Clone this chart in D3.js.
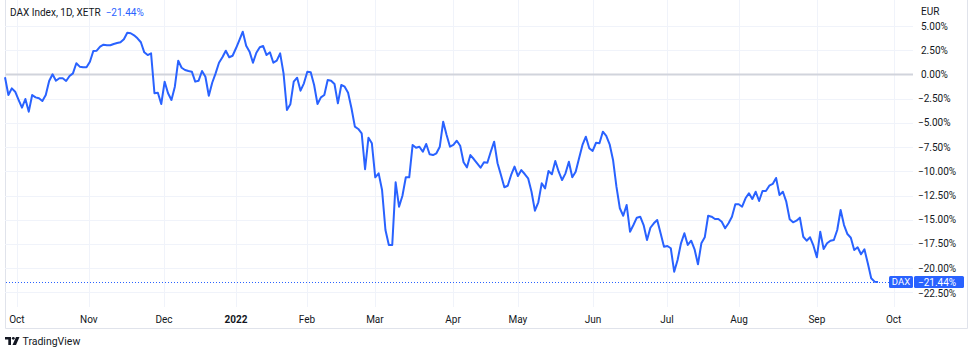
<!DOCTYPE html>
<html>
<head>
<meta charset="utf-8">
<script src="https://cdn.jsdelivr.net/npm/d3@7"></script>
<style>
  body { margin: 0; background: #fff; }
  svg { display: block; font-family: Roboto, "Noto Sans", sans-serif; }
</style>
</head>
<body>
<div id="chart"></div>
<script>
// DAX daily change in %, one value per trading day (Sep 2021 - Sep 2022)
var values = [
  -0.29, -2.12, -1.43, -1.78, -2.63, -3.43, -2.53, -3.84, -2.12, -2.36,
  -2.46, -2.74, -2.12, -0.67, 0.02, -0.64, -0.39, -0.39, -0.67, -0.15,
  0.12, 1.16, 0.81, 0.74, 0.74, 1.32, 2.43, 2.46, 2.87, 3.08,
  3.02, 3.02, 3.15, 3.25, 3.33, 3.64, 4.32, 4.26, 4.05, 3.74,
  3.33, 2.29, 2.01, 2.19, -1.94, -1.88, -3.05, -0.74, -1.94, -2.63,
  -1.26, 1.43, 0.70, 0.46, 0.36, 0.29, -0.74, -0.64, 0.36, -0.23,
  -2.19, -0.85, 0.12, 1.22, 1.78, 2.46, 1.78, 1.94, 2.71, 3.56,
  4.42, 2.98, 2.36, 1.22, 2.25, 2.81, 2.94, 2.01, 2.29, 1.22,
  1.43, 2.19, 0.12, -3.67, -3.08, -0.74, -0.33, -1.67, -0.91, 0.29,
  0.23, -1.08, -3.05, -2.36, -2.12, -0.57, -0.64, -0.98, -2.98, -1.08,
  -1.26, -1.88, -3.49, -5.39, -5.63, -6.07, -9.79, -6.53, -7.11, -10.62,
  -10.21, -11.93, -16.06, -17.62, -17.62, -11.14, -13.66, -12.52, -10.62, -10.62,
  -7.28, -7.56, -7.46, -7.98, -7.18, -8.24, -8.32, -8.14, -7.46, -4.88,
  -6.25, -7.46, -7.28, -6.84, -7.36, -9.07, -9.59, -8.32, -8.73, -9.17,
  -9.63, -9.07, -9.11, -7.98, -6.94, -9.17, -10.38, -11.65, -11.49, -10.38,
  -9.52, -10.49, -9.87, -10.28, -10.72, -12.11, -14.07, -13.20, -11.24, -11.76,
  -9.97, -10.31, -8.94, -10.04, -10.90, -10.21, -9.01, -10.62, -10.04, -8.66,
  -7.28, -6.43, -7.62, -7.90, -7.05, -7.11, -5.91, -6.35, -7.21, -8.83,
  -11.59, -13.82, -14.59, -13.48, -16.24, -15.55, -14.79, -14.69, -15.55, -17.10,
  -15.83, -15.37, -15.03, -16.40, -17.79, -17.72, -17.95, -20.37, -19.16, -17.44,
  -16.40, -17.61, -17.17, -18.06, -19.61, -17.44, -16.82, -14.59, -14.69, -14.93,
  -14.93, -15.21, -15.89, -15.37, -14.69, -13.41, -13.41, -13.66, -12.79, -12.27,
  -12.86, -12.11, -13.07, -12.04, -12.04, -11.49, -11.31, -10.69, -12.45, -12.11,
  -13.14, -14.96, -15.27, -15.10, -14.79, -16.76, -17.17, -16.82, -17.69, -18.88,
  -16.24, -18.03, -17.44, -17.17, -17.10, -16.06, -14.00, -15.55, -16.48, -16.86,
  -18.13, -17.85, -18.57, -18.06, -19.50, -21.05, -21.40, -21.44
];

// month starts, as trading-day index into values
var monthIdx = [3.5, 24.7, 46.8, 68, 88.9, 108.9, 131.9, 151, 173.1, 194.9, 216.1, 239, 261.6];
var monthLabels = ["Oct", "Nov", "Dec", "2022", "Feb", "Mar", "Apr", "May", "Jun", "Jul", "Aug", "Sep", "Oct"];

var yTicks = [5, 2.5, 0, -2.5, -5, -7.5, -10, -12.5, -15, -17.5, -20, -22.5];
var lastValue = -21.44;

var W = 975, H = 354;
var plot = {left: 5, right: 913, top: 0, bottom: 307};
var blue = "#2962ff", ink = "#131722";
var fs = "10px";

var svg = d3.select("#chart").append("svg")
  .attr("width", W)
  .attr("height", H);

var x = d3.scaleLinear()
  .domain([0, values.length - 1])
  .range([5, 878]);

var y = d3.scaleLinear()
  .domain([5, -22.5])
  .range([26.1, 292.3]);

function pct(v) {
  return d3.format(".2f")(v).replace("-", "\u2212") + "%";
}

// widget border
svg.append("path")
  .attr("d", "M5.5,0 V328.5 H967.5 V0")
  .style("fill", "none")
  .style("stroke", "#e0e3eb");

// vertical grid
svg.selectAll(".vgrid")
  .data(monthIdx)
  .enter().append("line")
  .attr("class", "vgrid")
  .attr("x1", function(d) { return Math.round(x(d)) + 0.5; })
  .attr("x2", function(d) { return Math.round(x(d)) + 0.5; })
  .attr("y1", plot.top)
  .attr("y2", plot.bottom)
  .style("stroke", "#f0f3fa");

// horizontal grid
svg.selectAll(".hgrid")
  .data(yTicks.filter(function(d) { return d != 0; }))
  .enter().append("line")
  .attr("class", "hgrid")
  .attr("x1", plot.left)
  .attr("x2", plot.right)
  .attr("y1", function(d) { return Math.round(y(d)) + 0.5; })
  .attr("y2", function(d) { return Math.round(y(d)) + 0.5; })
  .style("stroke", "#f0f3fa");

// zero baseline
svg.append("line")
  .attr("x1", plot.left + 1)
  .attr("x2", plot.right)
  .attr("y1", y(0))
  .attr("y2", y(0))
  .style("stroke", "#d1d4dc")
  .style("stroke-width", 2);

// last value dotted line
svg.append("line")
  .attr("x1", plot.left + 1)
  .attr("x2", plot.right)
  .attr("y1", Math.round(y(lastValue)) + 0.5)
  .attr("y2", Math.round(y(lastValue)) + 0.5)
  .style("stroke", blue)
  .style("stroke-width", 1)
  .style("stroke-dasharray", "1,2");

// the series
var line = d3.line()
  .x(function(d, i) { return x(i); })
  .y(function(d) { return y(d); });

svg.append("path")
  .datum(values)
  .attr("d", line)
  .style("fill", "none")
  .style("stroke", blue)
  .style("stroke-width", 2)
  .style("stroke-linejoin", "round");

// price scale labels
svg.append("text")
  .text("EUR")
  .attr("x", 921)
  .attr("y", 11)
  .attr("dy", "0.35em")
  .style("font-size", fs)
  .style("fill", ink);

svg.selectAll(".ylab")
  .data(yTicks)
  .enter().append("text")
  .attr("class", "ylab")
  .text(pct)
  .attr("x", function(d) { return d < 0 ? 918 : 921; })
  .attr("y", function(d) { return y(d) + (d == -22.5 ? 1 : 0); })
  .attr("dy", "0.35em")
  .style("font-size", fs)
  .style("fill", ink);

// end labels
var ly = Math.round(y(lastValue));
svg.append("rect")
  .attr("x", 889).attr("y", ly - 6)
  .attr("width", 24).attr("height", 12)
  .attr("rx", 1.5)
  .style("fill", blue);
svg.append("text")
  .text("DAX")
  .attr("x", 901).attr("y", ly)
  .attr("dy", "0.35em")
  .attr("text-anchor", "middle")
  .style("font-size", "9.5px")
  .style("fill", "#fff");
svg.append("rect")
  .attr("x", 914).attr("y", ly - 6)
  .attr("width", 50).attr("height", 12)
  .attr("rx", 1.5)
  .style("fill", blue);
svg.append("text")
  .text(pct(lastValue))
  .attr("x", 918).attr("y", ly)
  .attr("dy", "0.35em")
  .style("font-size", fs)
  .style("fill", "#fff");

// time axis labels
svg.selectAll(".xlab")
  .data(monthIdx)
  .enter().append("text")
  .attr("class", "xlab")
  .text(function(d, i) { return monthLabels[i]; })
  .attr("x", function(d) { return x(d); })
  .attr("y", 319)
  .attr("dy", "0.35em")
  .attr("text-anchor", "middle")
  .style("font-size", fs)
  .style("font-weight", function(d, i) { return monthLabels[i] == "2022" ? "bold" : "normal"; })
  .style("fill", ink);

// legend / title
var title = svg.append("text")
  .attr("x", 10)
  .attr("y", 12)
  .attr("dy", "0.35em")
  .style("font-size", fs)
  .style("fill", ink);
title.append("tspan").text("DAX Index, 1D, XETR");
title.append("tspan").attr("dx", 5).style("fill", blue).text(pct(lastValue));

// TradingView mark
var logo = svg.append("g").attr("transform", "translate(5,337)");
logo.append("path")
  .attr("d", "M0,0 H6 V8 H3.3 V2.5 H0 Z")
  .style("fill", ink);
logo.append("circle")
  .attr("cx", 8.3).attr("cy", 1.3).attr("r", 1.4)
  .style("fill", ink);
logo.append("path")
  .attr("d", "M11,0 H14.5 L11,8 H7.5 Z")
  .style("fill", ink);
svg.append("text")
  .text("TradingView")
  .attr("x", 22.5)
  .attr("y", 341)
  .attr("dy", "0.35em")
  .style("font-size", "10.5px")
  .style("fill", ink);
</script>
</body>
</html>
